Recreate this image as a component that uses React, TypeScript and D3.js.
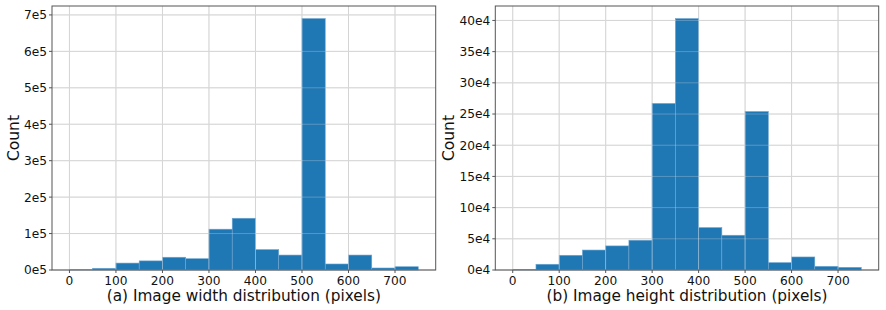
import React, { useRef, useEffect } from "react";
import * as d3 from "d3";

// histogram bins: 0..750 in steps of 50
const binEdges = [0, 50, 100, 150, 200, 250, 300, 350, 400, 450, 500, 550, 600, 650, 700, 750];
const widthCounts = [800, 4700, 19000, 25000, 35000, 31000, 112000, 142000, 56000, 41000, 690000, 16500, 41000, 5500, 9000];
const heightCounts = [500, 9200, 23600, 32000, 38600, 47700, 267000, 403000, 68000, 55700, 254000, 11800, 20900, 5900, 4300];
const xTicks = [0, 100, 200, 300, 400, 500, 600, 700];
const widthYTicks = [0, 1, 2, 3, 4, 5, 6, 7];
const heightYTicks = [0, 5, 10, 15, 20, 25, 30, 35, 40];

const W = 886;
const H = 310;

function drawPanel(svg, opts) {
  const { left, right, top, bottom, counts, yTicks, unit, suffix, xlabel, ylabelX } = opts;
  const g = svg.append("g");

  const x = d3.scaleLinear().domain([-37.5, 787.5]).range([left, right]);
  const ymax = d3.max(counts) * 1.05;
  const y = d3.scaleLinear().domain([0, ymax]).range([bottom, top]);

  const grid = (color, op) => {
    g.append("g")
      .selectAll("line")
      .data(xTicks)
      .join("line")
      .attr("x1", d => x(d))
      .attr("x2", d => x(d))
      .attr("y1", top)
      .attr("y2", bottom)
      .attr("stroke", color)
      .attr("stroke-opacity", op);
    g.append("g")
      .selectAll("line")
      .data(yTicks)
      .join("line")
      .attr("x1", left)
      .attr("x2", right)
      .attr("y1", d => y(d * unit))
      .attr("y2", d => y(d * unit))
      .attr("stroke", color)
      .attr("stroke-opacity", op);
  };

  grid("#cfcfcf", 1);

  // bars
  g.selectAll(".bar")
    .data(counts)
    .join("rect")
    .attr("x", (d, i) => x(binEdges[i]))
    .attr("width", (d, i) => x(binEdges[i + 1]) - x(binEdges[i]))
    .attr("y", d => y(d))
    .attr("height", d => bottom - y(d))
    .attr("fill", "#1f77b4")
    .attr("stroke", "#6fa6d0")
    .attr("stroke-width", 0.6);

  // grid shows faintly through the bars
  grid("#e0e0e0", 0.3);

  // spines
  g.append("rect")
    .attr("x", left)
    .attr("y", top)
    .attr("width", right - left)
    .attr("height", bottom - top)
    .attr("fill", "none")
    .attr("stroke", "#555")
    .attr("stroke-width", 1);

  // tick marks
  g.append("g")
    .selectAll("line")
    .data(xTicks)
    .join("line")
    .attr("x1", d => x(d))
    .attr("x2", d => x(d))
    .attr("y1", bottom)
    .attr("y2", bottom + 3)
    .attr("stroke", "#555");
  g.append("g")
    .selectAll("line")
    .data(yTicks)
    .join("line")
    .attr("x1", left - 3)
    .attr("x2", left)
    .attr("y1", d => y(d * unit))
    .attr("y2", d => y(d * unit))
    .attr("stroke", "#555");

  // tick labels
  g.selectAll(".xt")
    .data(xTicks)
    .join("text")
    .attr("x", d => x(d))
    .attr("y", bottom + 14.5)
    .attr("text-anchor", "middle")
    .attr("font-size", 12.2)
    .attr("fill", "#111")
    .text(d => d);
  g.selectAll(".yt")
    .data(yTicks)
    .join("text")
    .attr("x", left - 5)
    .attr("y", d => y(d * unit))
    .attr("dy", "0.36em")
    .attr("text-anchor", "end")
    .attr("font-size", 12.2)
    .attr("fill", "#111")
    .text(d => d + suffix);

  g.append("text")
    .attr("x", (left + right) / 2)
    .attr("y", bottom + 30.5)
    .attr("text-anchor", "middle")
    .attr("font-size", 15.3)
    .attr("fill", "#111")
    .text(xlabel);

  g.append("text")
    .attr("transform", `translate(${ylabelX},${(top + bottom) / 2}) rotate(-90)`)
    .attr("text-anchor", "middle")
    .attr("font-size", 15.5)
    .attr("fill", "#111")
    .text("Count");
}

const App = () => {
  const ref = useRef(null);

  useEffect(() => {
    if (!ref.current) return;
    const svg = d3.select(ref.current);
    svg.selectAll("*").remove();

    drawPanel(svg, {
      left: 52, right: 435.7, top: 6, bottom: 270,
      counts: widthCounts, yTicks: widthYTicks, unit: 1e5, suffix: "e5",
      xlabel: "(a) Image width distribution (pixels)", ylabelX: 18.5,
    });
    drawPanel(svg, {
      left: 495.3, right: 878.7, top: 6, bottom: 270,
      counts: heightCounts, yTicks: heightYTicks, unit: 1e4, suffix: "e4",
      xlabel: "(b) Image height distribution (pixels)", ylabelX: 453.5,
    });
  }, []);

  return (
    <div style={{ position: "absolute", left: 0, top: 0 }}>
      <svg ref={ref} width={W} height={H} style={{ fontFamily: "DejaVu Sans", background: "#fff", display: "block" }} />
    </div>
  );
};

export default App;
